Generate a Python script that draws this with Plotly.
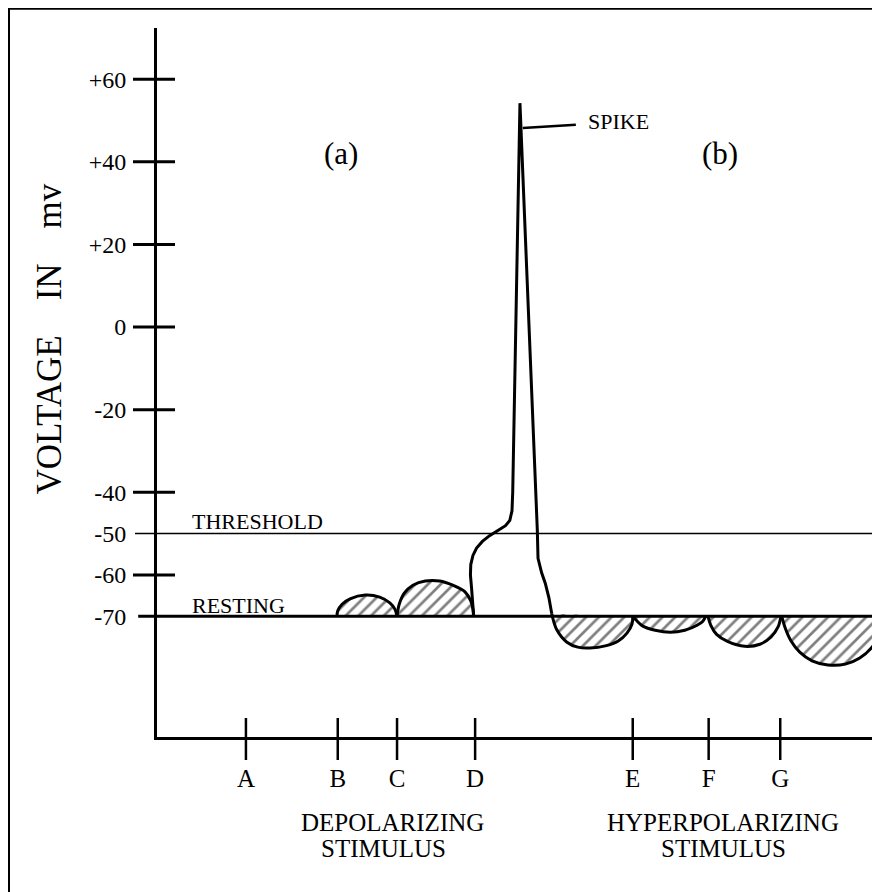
import plotly.graph_objects as go

# ---------------- data ----------------
FONT = "Liberation Serif"
resting_mv = -70
threshold_mv = -50

# y-axis ticks (mV)
ytick_vals = [60, 40, 20, 0, -20, -40, -50, -60, -70]
ytick_text = ["+60", "+40", "+20", "0", "-20", "-40", "-50", "-60", "-70"]
ytick_marks = [60, 40, 20, 0, -20, -40, -60]

# stimulus times (arbitrary time units)
stim_labels = ["A", "B", "C", "D", "E", "F", "G"]
stim_times = [12.3, 25.0, 33.2, 44.0, 65.8, 76.3, 86.2]

# depolarizing responses (time, mV)
hump_b_t = [24.9, 25.0, 25.6, 26.7, 28.8, 30.8, 32.2, 32.9, 33.2]
hump_b_v = [-70, -68.7, -67.1, -65.8, -64.9, -65.4, -66.8, -68.3, -70]
hump_c_t = [33.2, 33.5, 34.2, 35.4, 37.1, 39.1, 40.9, 42.6, 43.4, 43.7, 43.8]
hump_c_v = [-70, -67.1, -64.4, -62.5, -61.5, -61.5, -62.5, -64.1, -66.3, -68.3, -70]

# action potential (spike) at D
spike_t = [43.8, 43.7, 43.5, 43.35, 43.4, 43.7, 44.2, 45.0, 46.0, 47.2, 48.2, 48.8,
           49.1, 49.2, 50.2, 52.6, 52.7, 53.2, 53.7, 54.2, 54.6]
spike_v = [-70, -66.5, -63, -60, -57.5, -55.3, -53.5, -51.9, -50.5, -49.2, -48.1, -46.8,
           -44.5, -40, 54.2, -49.1, -56, -59.5, -62.0, -65.5, -69.4]

# hyperpolarizing responses (time, mV)
hump_e_t = [54.6, 55.3, 56.7, 58.2, 59.9, 62.0, 63.8, 65.0, 65.7, 65.8]
hump_e_v = [-69.4, -73.3, -76.3, -77.5, -77.7, -77.2, -76.0, -74.1, -71.9, -70]
hump_f_t = [65.8, 66.3, 67.2, 68.9, 71.0, 73.0, 74.7, 75.5, 75.9]
hump_f_v = [-70, -71.0, -72.4, -73.4, -73.9, -73.4, -72.2, -71.2, -70]
hump_g_t = [76.2, 76.6, 77.4, 78.9, 81.3, 83.4, 84.9, 85.9, 86.3]
hump_g_v = [-70, -72.2, -74.4, -76.1, -77.3, -76.8, -75.1, -72.6, -70]
hump_h_t = [86.4, 86.9, 87.7, 88.9, 90.6, 92.8, 95.2, 97.2, 98.9, 100, 100]
hump_h_v = [-70, -72.9, -76.0, -78.7, -80.8, -81.8, -81.6, -80.1, -77.5, -73.8, -70]

X_RANGE = [0, 100]
Y_RANGE = [-99.25, 72.4]

# ---------------- figure ----------------
fig = go.Figure()

hatch = dict(shape="/", fgcolor="black", bgcolor="white", size=9, solidity=0.3)
for ht, hv in [(hump_b_t, hump_b_v), (hump_c_t, hump_c_v), (hump_e_t, hump_e_v),
               (hump_f_t, hump_f_v), (hump_g_t, hump_g_v), (hump_h_t, hump_h_v)]:
    fig.add_trace(go.Scatter(x=ht, y=hv, mode="lines", fill="toself",
                             fillpattern=hatch, fillcolor="white",
                             line=dict(color="black", width=3, shape="spline", smoothing=1.0),
                             hoverinfo="skip", showlegend=False))

fig.add_trace(go.Scatter(x=spike_t, y=spike_v, mode="lines",
                         line=dict(color="black", width=3),
                         hoverinfo="skip", showlegend=False))

shapes = []
# border (left and top visible)
shapes.append(dict(type="rect", xref="paper", yref="paper",
                   x0=-0.2047, x1=1.05, y0=-0.35, y1=1.027,
                   line=dict(color="black", width=2)))
# threshold and resting lines
shapes.append(dict(type="line", xref="paper", yref="y", x0=-0.0304, x1=1,
                   y0=threshold_mv, y1=threshold_mv, line=dict(color="black", width=1.5)))
shapes.append(dict(type="line", xref="paper", yref="y", x0=-0.026, x1=1,
                   y0=resting_mv, y1=resting_mv, line=dict(color="black", width=3)))
# y tick marks crossing the axis
for v in ytick_marks:
    shapes.append(dict(type="line", xref="paper", yref="y", xsizemode="pixel", xanchor=0,
                       x0=-24, x1=18, y0=v, y1=v, line=dict(color="black", width=3)))
# x tick marks crossing the axis
for t in stim_times:
    shapes.append(dict(type="line", xref="x", yref="paper", ysizemode="pixel", yanchor=0,
                       y0=-23, y1=19, x0=t, x1=t, line=dict(color="black", width=2.5)))

gap = "\u00a0" * 4
ann = []
ann.append(dict(text="VOLTAGE" + gap + "IN" + gap + "mv", xref="paper", yref="paper",
                x=-0.148, y=0.562, textangle=-90, showarrow=False,
                xanchor="center", yanchor="middle",
                font=dict(family=FONT, size=35, color="black")))
ann.append(dict(text="(a)", x=25.4, y=42.1, showarrow=False,
                font=dict(family=FONT, size=31, color="black")))
ann.append(dict(text="(b)", x=77.9, y=42.1, showarrow=False,
                font=dict(family=FONT, size=31, color="black")))
ann.append(dict(text="SPIKE", x=50.6, y=48.2, ax=96, ay=-6, showarrow=True,
                arrowhead=0, arrowwidth=2.5, arrowcolor="black", borderpad=12,
                font=dict(family=FONT, size=22, color="black")))
ann.append(dict(text="THRESHOLD", x=4.56, y=-47.0, xanchor="left", showarrow=False,
                font=dict(family=FONT, size=22, color="black")))
ann.append(dict(text="RESTING", x=4.56, y=-67.3, xanchor="left", showarrow=False,
                font=dict(family=FONT, size=22, color="black")))
for txt, xc, ypx in [("DEPOLARIZING", 32.6, 822), ("STIMULUS", 31.3, 848),
                     ("HYPERPOLARIZING", 78.3, 822), ("STIMULUS", 78.3, 848)]:
    ann.append(dict(text=txt, x=xc, xref="x", yref="paper", y=(737 - ypx) / 709,
                    showarrow=False, xanchor="center", yanchor="middle",
                    font=dict(family=FONT, size=25, color="black")))

fig.update_layout(
    width=872, height=884,
    margin=dict(l=149, r=0, t=20, b=155, autoexpand=False),
    paper_bgcolor="white", plot_bgcolor="white",
    shapes=shapes, annotations=ann, showlegend=False,
    xaxis=dict(range=X_RANGE, showgrid=False, zeroline=False, showline=True,
               linecolor="black", linewidth=3, ticks="",
               tickvals=stim_times, ticktext=stim_labels, ticklabelstandoff=17,
               tickfont=dict(family=FONT, size=25, color="black")),
    yaxis=dict(range=Y_RANGE, showgrid=False, zeroline=False, showline=True,
               linecolor="black", linewidth=3, ticks="",
               tickvals=ytick_vals, ticktext=ytick_text, ticklabelstandoff=23,
               tickfont=dict(family=FONT, size=24, color="black")),
)

fig.write_html("out.html")
